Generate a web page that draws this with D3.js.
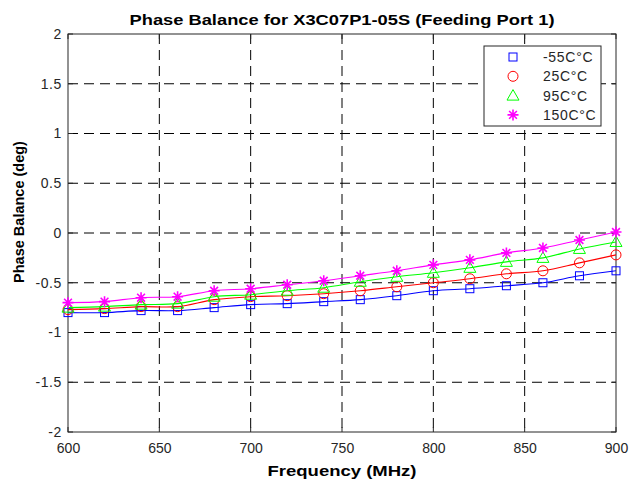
<!DOCTYPE html>
<html><head><meta charset="utf-8">
<script src="https://cdn.jsdelivr.net/npm/d3@7"></script>
<style>body{margin:0;background:#fff}svg{display:block}text{font-family:"Liberation Sans",Arial,sans-serif}</style>
</head><body><svg id="c" width="639" height="485"></svg>
<script>
const freq = [600,620,640,660,680,700,720,740,760,780,800,820,840,860,880,900];
const sM55 = [-0.80,-0.80,-0.78,-0.78,-0.75,-0.72,-0.71,-0.69,-0.67,-0.63,-0.58,-0.56,-0.53,-0.50,-0.43,-0.38];
const s25  = [-0.77,-0.76,-0.74,-0.74,-0.67,-0.64,-0.63,-0.61,-0.58,-0.54,-0.50,-0.46,-0.41,-0.38,-0.30,-0.22];
const s95  = [-0.75,-0.74,-0.72,-0.71,-0.64,-0.62,-0.58,-0.55,-0.49,-0.44,-0.40,-0.35,-0.29,-0.25,-0.16,-0.09];
const s150 = [-0.70,-0.69,-0.65,-0.64,-0.58,-0.56,-0.52,-0.48,-0.43,-0.38,-0.32,-0.27,-0.20,-0.15,-0.07,0.01];
const seriesNames = ["-55C°C","25C°C","95C°C","150C°C"];
const xTicks = [600,650,700,750,800,850,900];
const yTicks = [-2,-1.5,-1,-0.5,0,0.5,1,1.5,2];

const series = [
  {name:seriesNames[0], vals:sM55, color:"#0000ff", marker:"square"},
  {name:seriesNames[1], vals:s25,  color:"#ff0000", marker:"circle"},
  {name:seriesNames[2], vals:s95,  color:"#00ff00", marker:"triangle"},
  {name:seriesNames[3], vals:s150, color:"#ff00ff", marker:"star"}
];

const svg = d3.select("#c");
const L=68, R=616, T=34, B=432;
const x = d3.scaleLinear().domain([600,900]).range([L,R]);
const y = d3.scaleLinear().domain([-2,2]).range([B,T]);
const axisCol = "#262626";

// grid
const g = svg.append("g");
g.selectAll(".gx").data(xTicks.slice(1,-1)).enter().append("line")
  .attr("x1",d=>x(d)).attr("x2",d=>x(d)).attr("y1",T).attr("y2",B)
  .attr("stroke","#000").attr("stroke-width",1).attr("stroke-dasharray","10,6");
g.selectAll(".gy").data(yTicks.slice(1,-1)).enter().append("line")
  .attr("x1",L).attr("x2",R).attr("y1",d=>y(d)).attr("y2",d=>y(d))
  .attr("stroke","#000").attr("stroke-width",1).attr("stroke-dasharray","10,6");

// axes
const xAxis = d3.axisBottom(x).tickValues(xTicks).tickSize(0).tickPadding(11).tickFormat(d3.format("d"));
const yAxis = d3.axisLeft(y).tickValues(yTicks).tickSize(0).tickPadding(6).tickFormat(d=>String(d));
const ax = svg.append("g").attr("transform",`translate(0,${B})`).call(xAxis);
const ay = svg.append("g").attr("transform",`translate(${L},0)`).call(yAxis);
[ax,ay].forEach(a=>{a.select(".domain").remove();a.selectAll("text").attr("font-size",14).attr("fill","#262626").attr("font-family","Liberation Sans, Arial, sans-serif");});
ay.selectAll("text").attr("dy","0.32em").attr("letter-spacing","0.6px");
// inner ticks
xTicks.forEach(t=>{
  svg.append("line").attr("x1",x(t)).attr("x2",x(t)).attr("y1",B).attr("y2",B-5).attr("stroke",axisCol);
  svg.append("line").attr("x1",x(t)).attr("x2",x(t)).attr("y1",T).attr("y2",T+5).attr("stroke",axisCol);
});
yTicks.forEach(t=>{
  svg.append("line").attr("x1",L).attr("x2",L+5).attr("y1",y(t)).attr("y2",y(t)).attr("stroke",axisCol);
  svg.append("line").attr("x1",R).attr("x2",R-5).attr("y1",y(t)).attr("y2",y(t)).attr("stroke",axisCol);
});
svg.append("rect").attr("x",L).attr("y",T).attr("width",R-L).attr("height",B-T)
  .attr("fill","none").attr("stroke",axisCol).attr("stroke-width",1);

// markers
function drawMarker(sel, type, color, cx, cy){
  if(type==="square"){
    sel.append("rect").attr("x",cx-4).attr("y",cy-4).attr("width",8).attr("height",8)
      .attr("fill","none").attr("stroke",color).attr("stroke-width",1);
  } else if(type==="circle"){
    sel.append("circle").attr("cx",cx).attr("cy",cy).attr("r",5)
      .attr("fill","none").attr("stroke",color).attr("stroke-width",1);
  } else if(type==="triangle"){
    sel.append("path").attr("d",`M${cx},${cy-6}L${cx+6},${cy+4.5}L${cx-6},${cy+4.5}Z`)
      .attr("fill","none").attr("stroke",color).attr("stroke-width",1);
  } else {
    const r=5.5; let d="";
    for(let i=0;i<4;i++){const a=i*Math.PI/4; d+=`M${cx-r*Math.cos(a)},${cy-r*Math.sin(a)}L${cx+r*Math.cos(a)},${cy+r*Math.sin(a)}`;}
    sel.append("path").attr("d",d).attr("stroke",color).attr("stroke-width",1.6);
  }
}

const line = d3.line().x(d=>x(d[0])).y(d=>y(d[1])).curve(d3.curveCatmullRom.alpha(0.5));
series.forEach(s=>{
  const pts = freq.map((f,i)=>[f,s.vals[i]]);
  svg.append("path").datum(pts).attr("d",line).attr("fill","none").attr("stroke",s.color).attr("stroke-width",1.1);
  const mg = svg.append("g");
  pts.forEach(p=>drawMarker(mg,s.marker,s.color,x(p[0]),y(p[1])));
});

// legend
const lg = svg.append("g");
lg.append("rect").attr("x",484).attr("y",46).attr("width",117).attr("height",80)
  .attr("fill","#fff").attr("stroke",axisCol).attr("stroke-width",1);
series.forEach((s,i)=>{
  const cy = 57 + i*19.3;
  drawMarker(lg,s.marker,s.color,513,cy);
  lg.append("text").attr("x",543).attr("y",cy).attr("dy","0.35em").attr("font-size",14).attr("letter-spacing","0.7px").attr("fill","#262626").text(s.name);
});

// titles
svg.append("text").attr("x",(L+R)/2).attr("y",25).attr("text-anchor","middle").attr("font-size",15).attr("font-weight","bold").attr("fill","#000")
  .attr("textLength",425).attr("lengthAdjust","spacingAndGlyphs")
  .text("Phase Balance for X3C07P1-05S (Feeding Port 1)");
svg.append("text").attr("x",(L+R)/2).attr("y",476).attr("text-anchor","middle").attr("font-size",15).attr("font-weight","bold").attr("fill","#000")
  .attr("textLength",149).attr("lengthAdjust","spacingAndGlyphs")
  .text("Frequency (MHz)");
svg.append("text").attr("transform",`translate(24,212) rotate(-90)`).attr("text-anchor","middle").attr("font-size",14.5).attr("font-weight","bold").attr("fill","#000")
  .text("Phase Balance (deg)");
</script></body></html>
